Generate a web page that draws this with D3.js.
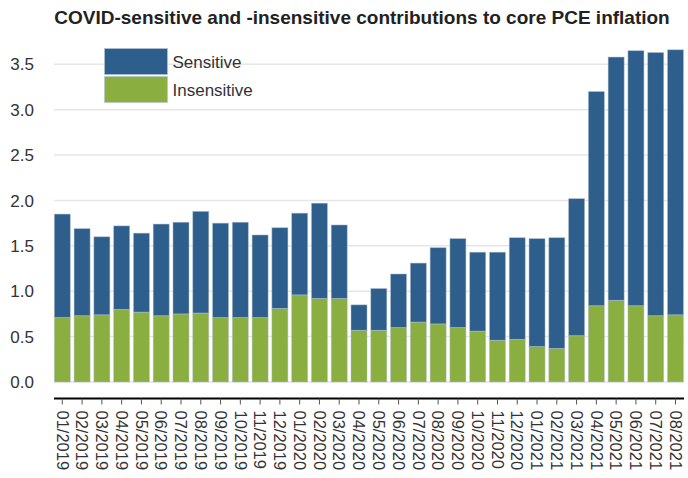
<!DOCTYPE html>
<html>
<head>
<meta charset="utf-8">
<script src="https://cdn.jsdelivr.net/npm/d3@7"></script>
<style>
    body { margin: 0; background: #fff; }
    svg { display: block; }
</style>
</head>
<body>
<svg id="chart" width="688" height="478"></svg>
<script>
const months = [
    "01/2019", "02/2019", "03/2019", "04/2019", "05/2019", "06/2019", "07/2019", "08/2019",
    "09/2019", "10/2019", "11/2019", "12/2019", "01/2020", "02/2020", "03/2020", "04/2020",
    "05/2020", "06/2020", "07/2020", "08/2020", "09/2020", "10/2020", "11/2020", "12/2020",
    "01/2021", "02/2021", "03/2021", "04/2021", "05/2021", "06/2021", "07/2021", "08/2021"
];

// totals (top of each bar)
const totals = [
    1.85, 1.69, 1.60, 1.72, 1.64, 1.74, 1.76, 1.88,
    1.75, 1.76, 1.62, 1.70, 1.86, 1.97, 1.73, 0.85,
    1.03, 1.19, 1.31, 1.48, 1.58, 1.43, 1.43, 1.59,
    1.58, 1.59, 2.02, 3.20, 3.58, 3.65, 3.63, 3.66
];

const insensitive = [
    0.71, 0.73, 0.74, 0.80, 0.77, 0.73, 0.75, 0.76,
    0.71, 0.71, 0.71, 0.81, 0.96, 0.92, 0.92, 0.57,
    0.57, 0.60, 0.66, 0.64, 0.60, 0.56, 0.46, 0.47,
    0.39, 0.37, 0.51, 0.84, 0.90, 0.84, 0.73, 0.74
];

const sensitive = totals.map((t, i) => +(t - insensitive[i]).toFixed(2));

const yTicks = [0, 0.5, 1.0, 1.5, 2.0, 2.5, 3.0, 3.5];

const keys = ["insensitive", "sensitive"];
const colors = {
    sensitive: "#2e5e8c",
    insensitive: "#8aae40"
};

const rows = months.map((m, i) => ({
    month: m,
    sensitive: sensitive[i],
    insensitive: insensitive[i]
}));

let svg = d3.select("#chart");

let x = d3.scaleBand()
    .domain(months)
    .range([54.3, 683.5])
    .paddingInner(0.19)
    .paddingOuter(0);

let y = d3.scaleLinear()
    .domain([0, 3.5])
    .range([382, 64.3]);

// title
svg.append("text")
    .attr("x", 362)
    .attr("y", 24)
    .attr("text-anchor", "middle")
    .style("font", "bold 19px 'Liberation Sans', Arial, sans-serif")
    .attr("fill", "#222")
    .text("COVID-sensitive and -insensitive contributions to core PCE inflation");

// gridlines
svg.append("g")
    .selectAll("line")
    .data(yTicks)
    .enter().append("line")
    .attr("x1", 54)
    .attr("x2", 684)
    .attr("y1", d => y(d))
    .attr("y2", d => y(d))
    .attr("stroke", "#e6e6e6")
    .attr("stroke-width", 1.5);

// y labels
svg.append("g")
    .selectAll("text")
    .data(yTicks)
    .enter().append("text")
    .attr("x", 34)
    .attr("y", d => y(d))
    .attr("dy", "0.36em")
    .attr("text-anchor", "end")
    .attr("fill", "#333")
    .style("font", "17px 'Liberation Sans', Arial, sans-serif")
    .text(d => d.toFixed(1));

// bars
let stack = d3.stack().keys(keys);

let serie = svg.append("g")
    .selectAll(".serie")
    .data(stack(rows))
    .enter().append("g")
    .attr("class", "serie")
    .attr("fill", d => colors[d.key]);

serie.selectAll("rect")
    .data(d => d)
    .enter().append("rect")
    .attr("x", d => x(d.data.month))
    .attr("y", d => y(d[1]))
    .attr("width", x.bandwidth())
    .attr("height", d => y(d[0]) - y(d[1]))
    .attr("stroke", "#b4c3d2")
    .attr("stroke-opacity", 0.6)
    .attr("stroke-width", 0.8);

// x axis
let xAxis = svg.append("g")
    .attr("transform", "translate(0,398.5)")
    .call(d3.axisBottom(x).tickSize(6).tickPadding(8).tickSizeOuter(0));

xAxis.select(".domain")
    .attr("stroke", "#000")
    .attr("stroke-width", 2)
    .attr("d", "M54,0H684");

xAxis.selectAll(".tick line")
    .attr("stroke", "#555");

xAxis.selectAll(".tick text")
    .attr("transform", "rotate(90)")
    .attr("x", 12)
    .attr("y", 0)
    .attr("dy", "0.35em")
    .attr("text-anchor", "start")
    .attr("fill", "#333")
    .style("font", "16.5px 'Liberation Sans', Arial, sans-serif");

// legend
const legendItems = [
    {key: "sensitive", label: "Sensitive"},
    {key: "insensitive", label: "Insensitive"}
];

let legend = svg.append("g")
    .selectAll("g")
    .data(legendItems)
    .enter().append("g")
    .attr("transform", (d, i) => "translate(104.5," + (48.5 + i * 28) + ")");

legend.append("rect")
    .attr("width", 63)
    .attr("height", 26)
    .attr("fill", d => colors[d.key])
    .attr("stroke", "#b4c3d2")
    .attr("stroke-opacity", 0.6);

legend.append("text")
    .attr("x", 68)
    .attr("y", 13)
    .attr("dy", "0.36em")
    .attr("fill", "#333")
    .style("font", "17px 'Liberation Sans', Arial, sans-serif")
    .text(d => d.label);
</script>
</body>
</html>
